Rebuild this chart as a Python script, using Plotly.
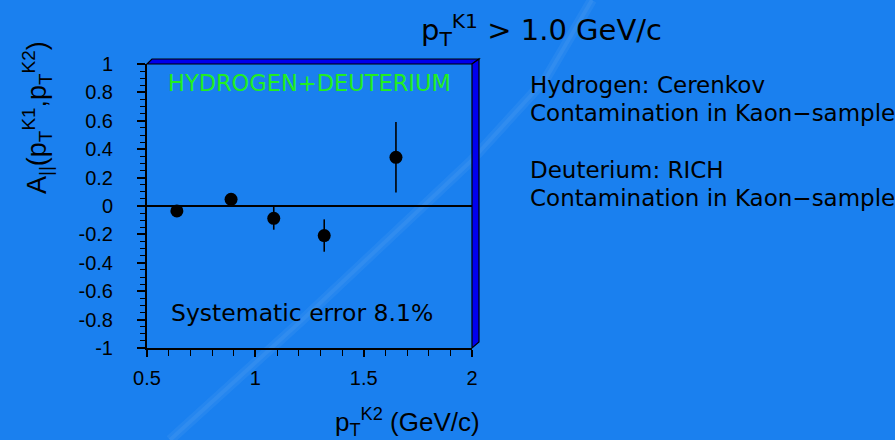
import plotly.graph_objects as go

# ---- data ----
pt_k2 = [0.638, 0.888, 1.085, 1.318, 1.649]
a_ll = [-0.035, 0.047, -0.087, -0.208, 0.343]
a_ll_err = [0.02, 0.02, 0.08, 0.114, 0.248]

x_ticks = [0.5, 1, 1.5, 2]
x_tick_labels = ["0.5", "1", "1.5", "2"]
y_ticks = [-1, -0.8, -0.6, -0.4, -0.2, 0, 0.2, 0.4, 0.6, 0.8, 1]
y_tick_labels = ["-1", "-0.8", "-0.6", "-0.4", "-0.2", "0", "0.2", "0.4", "0.6", "0.8", "1"]

W, H = 895, 440
L, R, T, B = 147, 472, 64, 348  # plot area in pixels


def px(x):
    return (x - L) / (R - L)


def py(y):
    return (B - y) / (B - T)


fig = go.Figure()
fig.add_trace(go.Scatter(
    x=pt_k2, y=a_ll,
    mode="markers",
    marker=dict(color="black", size=13),
    error_y=dict(type="data", array=a_ll_err, color="black", thickness=1.6, width=0),
    showlegend=False,
))

axis_font = dict(family="Liberation Sans, Arial, sans-serif", size=20, color="black")
text_font = "DejaVu Sans, sans-serif"

fig.update_xaxes(
    range=[0.5, 2], tickmode="array", tickvals=x_ticks, ticktext=x_tick_labels,
    ticks="outside", ticklen=7, tickwidth=1.5, tickcolor="black",
    minor=dict(dtick=0.1, ticks="outside", ticklen=6, tickwidth=1.2, tickcolor="black"),
    showline=True, linecolor="black", linewidth=2, mirror=False,
    showgrid=False, zeroline=False, tickfont=axis_font, ticklabelstandoff=4,
)
fig.update_yaxes(
    range=[-1, 1], tickmode="array", tickvals=y_ticks, ticktext=y_tick_labels,
    ticks="outside", ticklen=8, tickwidth=1.5, tickcolor="black",
    minor=dict(dtick=0.05, ticks="outside", ticklen=5, tickwidth=1.2, tickcolor="black"),
    showline=True, linecolor="black", linewidth=2, mirror=False,
    showgrid=False, zeroline=True, zerolinecolor="black", zerolinewidth=1.5,
    tickfont=axis_font, ticklabelstandoff=20,
)

shapes = []
# faint diagonal streak in the background
streak = [(170, 440), (300, 322), (470, 162), (545, 80), (592, 0)]
path = "M " + " L ".join(f"{px(a):.4f},{py(b):.4f}" for a, b in streak)
shapes.append(dict(type="path", xref="paper", yref="paper", path=path,
                   line=dict(color="rgba(255,255,255,0.05)", width=10), layer="below"))
shapes.append(dict(type="path", xref="paper", yref="paper", path=path,
                   line=dict(color="rgba(255,255,255,0.05)", width=4), layer="below"))
# 3D frame: top band
top_band = [(147, 64), (152, 59), (479, 59), (472, 64)]
shapes.append(dict(type="path", xref="paper", yref="paper",
                   path="M " + " L ".join(f"{px(a):.4f},{py(b):.4f}" for a, b in top_band) + " Z",
                   fillcolor="#0000ee", line=dict(color="black", width=1.2)))
# 3D frame: right band
right_band = [(472, 64), (479, 59), (479, 342), (472, 348)]
shapes.append(dict(type="path", xref="paper", yref="paper",
                   path="M " + " L ".join(f"{px(a):.4f},{py(b):.4f}" for a, b in right_band) + " Z",
                   fillcolor="#0000ee", line=dict(color="black", width=1.2)))

annotations = [
    dict(text="p<sub>T</sub><sup>K1</sup> > 1.0 GeV/c", x=px(541), y=py(30), xref="paper", yref="paper",
         showarrow=False, xanchor="center", yanchor="middle",
         font=dict(family=text_font, size=29, color="black")),
    dict(text="A<sub>||</sub>(p<sub>T</sub><sup>K1</sup>,p<sub>T</sub><sup>K2</sup>)",
         x=px(37), y=py(118), xref="paper", yref="paper", textangle=-90,
         showarrow=False, xanchor="center", yanchor="middle",
         font=dict(family="Liberation Sans, Arial, sans-serif", size=27, color="black")),
    dict(text="p<sub>T</sub><sup>K2</sup> (GeV/c)", x=px(482), y=py(422), xref="paper", yref="paper",
         showarrow=False, xanchor="right", yanchor="middle",
         font=dict(family="Liberation Sans, Arial, sans-serif", size=26, color="black")),
    dict(text="HYDROGEN+DEUTERIUM", x=px(309), y=py(83), xref="paper", yref="paper",
         showarrow=False, xanchor="center", yanchor="middle",
         font=dict(family=text_font, size=22.5, color="#22ee22")),
    dict(text="Systematic error 8.1%", x=px(169), y=py(313), xref="paper", yref="paper",
         showarrow=False, xanchor="left", yanchor="middle",
         font=dict(family=text_font, size=23.5, color="black")),
]
right_lines = [
    ("Hydrogen: Cerenkov", 85),
    ("Contamination in Kaon\u2212sample", 113),
    ("Deuterium: RICH", 170),
    ("Contamination in Kaon\u2212sample", 198),
]
for txt, yy in right_lines:
    annotations.append(dict(text=txt, x=px(528), y=py(yy), xref="paper", yref="paper",
                            showarrow=False, xanchor="left", yanchor="middle",
                            font=dict(family=text_font, size=23, color="black")))

fig.update_layout(
    width=W, height=H,
    margin=dict(l=L, r=W - R, t=T, b=H - B, pad=0),
    paper_bgcolor="#1a80ef",
    plot_bgcolor="rgba(0,0,0,0)",
    shapes=shapes,
    annotations=annotations,
)

fig.write_html("out.html")
